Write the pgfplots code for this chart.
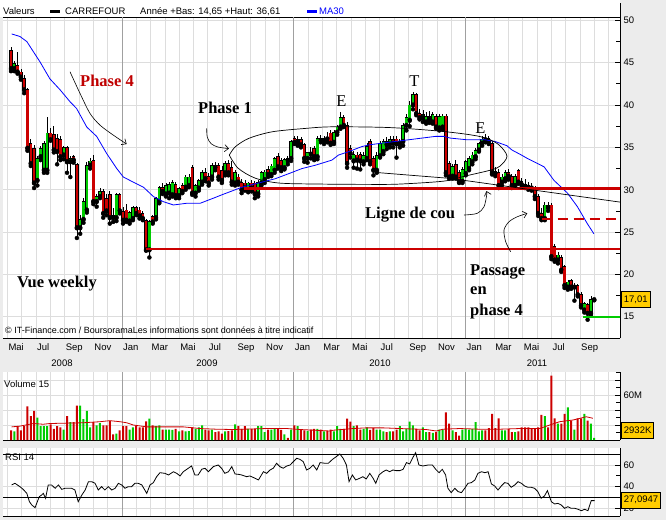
\documentclass[border=0pt]{standalone}
\usepackage{fontspec}
\setmainfont{Liberation Serif}
\newfontfamily\uisf{Liberation Sans}
\usepackage{pgfplots}
\usepackage{pgfplotstable}
\pgfplotsset{compat=1.18}
\usetikzlibrary{arrows.meta}

\definecolor{cred}{HTML}{CC0000}
\definecolor{cgreen}{HTML}{00CC00}
\definecolor{gridgray}{HTML}{DDDDDD}
\definecolor{yeargray}{HTML}{A0A0A0}
\definecolor{bggray}{HTML}{ECECEC}
\definecolor{annred}{HTML}{C00000}
\definecolor{boxyellow}{HTML}{FFCC00}

\newcommand\uifont{\uisf\fontsize{9.5}{11}\selectfont}
\newcommand\wmfont{\uisf\fontsize{9}{10}\selectfont}
\newcommand\annotb{\fontsize{16.5}{19}\selectfont\bfseries}
\newcommand\annotr{\fontsize{16.5}{19}\selectfont}

% weekly candles: x = week index, open high low close, volume (M)
\pgfplotstableread{
x o h l c v
0 46.4 46.8 44.0 44.3 13
1 44.3 45.2 44.0 44.9 11.6
2 44.7 46.3 43.7 43.9 18.5
3 43.9 44.3 43.0 43.3 13
4 43.1 43.5 41.4 41.8 18.5
5 41.8 42.0 34.6 34.9 45
6 35.5 36.0 32.8 33.1 32
7 34.9 35.3 30.2 30.8 39
8 31.1 34.0 30.5 33.7 30
9 33.9 35.2 33.5 34.9 18.5
10 32.3 35.8 32.0 35.5 18.5
11 32.3 38.6 32.0 36.7 18.5
12 36.7 37.3 35.8 35.9 20.8
13 36.5 37.5 34.4 34.7 15
14 36.1 36.6 33.0 34.5 18.5
15 35.9 36.4 33.5 33.9 17
16 34.1 35.2 33.6 35.0 14
17 35.0 35.2 32.0 33.3 32
18 33.3 34.0 31.5 33.7 24
19 33.9 34.1 33.2 33.5 24
20 33.0 33.2 24.3 25.5 46
21 25.5 27.0 24.8 26.5 46
22 26.5 29.0 26.1 28.6 28
23 27.6 33.3 27.3 32.9 39
24 32.9 33.8 32.5 33.4 17
25 33.5 34.1 28.3 28.6 24
26 28.6 29.5 28.0 29.2 19.5
27 29.2 30.2 29.0 29.8 22.6
28 29.8 30.1 26.7 27.2 19.5
29 29.0 29.5 27.0 27.5 19.5
30 29.4 29.8 26.0 26.7 25.6
31 27.0 27.8 26.2 26.7 7.5
32 26.7 29.6 26.3 29.4 8.4
33 29.4 29.6 27.2 27.5 13
34 27.4 28.0 26.0 26.4 18.5
35 27.6 28.3 26.2 26.4 18.5
36 26.3 27.5 26.0 27.3 14
37 26.6 28.1 26.4 27.9 17
38 27.9 28.1 27.0 27.2 18.5
39 27.6 28.0 26.6 26.9 17
40 27.2 27.5 26.4 26.6 17
41 26.4 26.6 22.8 22.9 25
42 22.9 26.4 22.0 26.2 28.6
43 26.8 27.0 26.0 26.2 19.5
44 26.7 29.2 26.5 29.0 18.5
45 28.6 30.5 28.4 30.3 19.5
46 30.3 30.8 29.5 29.8 14
47 29.5 30.8 29.2 30.5 14
48 29.6 30.9 29.0 30.6 14
49 29.4 31.2 29.2 30.9 13.5
50 30.6 30.9 29.0 29.3 15
51 29.3 30.3 29.0 30.1 11.6
52 30.5 30.8 29.6 29.8 13
53 30.3 31.7 30.0 31.5 11.6
54 30.5 31.8 30.3 31.5 12
55 32.6 32.9 29.4 29.6 17
56 29.6 30.7 29.2 30.5 15
57 30.2 31.3 29.9 31.1 17
58 30.9 32.3 30.6 32.0 19.6
59 32.0 32.6 31.0 31.3 14
60 31.6 32.0 30.5 30.8 13
61 31.5 33.2 31.2 32.9 14
62 32.9 33.3 32.3 32.6 10.5
63 32.9 33.2 31.2 31.5 11.6
64 32.3 32.8 30.8 31.1 8.6
65 32.0 33.4 31.7 33.1 11.6
66 33.1 33.5 31.7 32.0 12
67 32.6 33.4 30.6 30.9 13
68 30.8 32.3 30.5 32.0 21
69 31.5 31.8 30.6 30.9 18.5
70 30.9 31.3 29.6 30.0 15
71 30.8 31.1 29.9 30.2 18.5
72 30.0 30.9 29.7 30.8 15
73 30.8 31.2 29.8 30.2 15
74 30.8 31.0 29.0 29.5 15
75 29.5 31.1 29.2 30.9 18.5
76 30.8 32.2 30.5 32.0 18.5
77 31.2 32.3 30.8 32.1 10.5
78 32.4 32.8 31.5 31.8 14
79 31.8 33.0 31.6 32.8 14
80 32.3 33.9 32.0 33.7 15
81 33.9 34.3 32.5 32.7 15
82 33.5 33.8 32.2 32.6 13.5
83 32.6 33.8 32.4 33.6 7.5
84 33.7 34.0 33.0 33.4 3
85 33.7 35.9 33.4 35.7 14
86 36.1 36.4 35.4 35.6 19.6
87 35.6 36.3 35.2 35.9 18.5
88 35.9 36.2 35.0 35.3 14
89 35.3 35.5 33.3 33.7 13
90 33.7 34.5 33.2 34.4 12
91 34.4 35.0 33.7 34.2 14
92 34.9 35.2 33.5 33.9 15
93 33.9 36.3 33.6 36.1 15
94 36.1 36.5 35.6 35.8 14
95 35.8 36.3 35.4 36.1 11.6
96 36.1 36.8 35.6 36.0 12
97 36.7 37.0 35.3 35.5 14
98 35.6 37.0 35.4 36.8 11.6
99 36.8 37.6 36.5 37.4 18.5
100 37.4 39.2 37.2 38.5 15
101 38.5 38.8 37.4 37.6 15
102 37.6 38.0 32.6 33.1 28.6
103 34.9 35.3 33.8 34.3 24.6
104 33.4 34.6 32.6 34.2 18.5
105 34.1 34.5 32.5 33.5 19.5
106 34.2 34.4 32.4 33.4 14
107 33.3 34.5 33.0 34.0 15
108 33.7 35.5 33.5 35.1 17
109 35.7 36.0 33.0 33.3 13.5
110 33.7 34.0 31.7 32.3 16
111 32.3 34.5 32.0 34.0 14
112 34.0 35.8 33.8 35.5 14
113 34.5 36.0 34.2 35.7 11.6
114 35.7 36.2 34.8 35.3 10.5
115 35.4 36.3 35.0 35.9 11.6
116 35.9 36.4 35.0 35.5 11.6
117 36.0 36.3 33.8 35.4 14
118 35.4 36.0 35.0 35.7 18.5
119 35.7 37.9 35.2 37.6 11.6
120 37.6 39.0 37.0 38.5 15
121 38.2 40.5 37.5 40.0 24.6
122 40.0 41.6 39.5 41.2 19.5
123 41.2 41.4 38.8 39.0 15
124 39.0 39.5 38.3 38.5 13
125 38.5 39.4 38.0 38.9 17
126 38.0 39.2 37.8 38.6 10.5
127 38.6 39.3 37.9 38.3 10.5
128 38.0 39.2 37.8 38.9 9.5
129 38.6 38.9 37.2 37.4 10.5
130 37.3 38.9 37.0 38.6 14
131 37.4 38.9 37.1 38.7 14
132 38.7 38.9 31.7 32.0 36.7
133 33.1 33.4 31.3 31.5 22
134 31.6 33.0 31.3 32.7 13
135 33.0 33.5 31.3 31.5 10.5
136 32.0 32.3 30.8 30.9 6
137 31.0 32.7 30.8 32.4 14
138 31.9 33.5 31.7 33.3 15
139 32.5 34.0 32.3 33.7 14
140 33.3 34.4 33.0 34.1 15
141 33.9 34.9 33.6 34.6 23.7
142 34.7 35.6 34.5 35.5 11.6
143 35.5 36.3 35.2 36.0 13
144 36.1 36.6 35.6 35.9 13
145 36.1 36.4 35.4 35.7 16
146 35.5 35.8 31.8 32.0 35
147 32.2 32.7 31.6 31.9 16
148 32.0 32.4 30.2 30.5 29
149 30.9 31.8 30.5 31.5 13
150 31.3 32.3 31.0 32.0 13
151 32.0 32.4 31.2 31.6 15
152 31.6 31.9 30.2 30.5 10.5
153 30.5 31.9 30.3 31.6 10.5
154 32.3 32.5 30.7 30.9 11.6
155 31.0 31.4 30.3 30.6 17
156 30.6 31.3 30.2 30.4 17
157 30.5 30.9 30.0 30.3 17
158 30.4 30.8 29.9 30.2 15
159 30.2 30.5 28.9 29.2 15
160 29.2 29.5 26.9 27.2 17
161 27.2 27.8 26.4 26.6 33.6
162 26.6 28.5 26.4 28.2 32
163 28.2 28.6 27.5 27.9 17
164 28.2 28.4 21.8 22.1 86
165 23.3 23.6 21.5 21.7 29
166 21.7 22.6 21.3 22.3 22
167 22.0 22.3 20.3 20.5 22
168 20.9 21.1 18.4 18.7 35
169 18.5 19.3 18.2 19.1 43.5
170 19.3 19.5 18.3 18.5 26
171 18.5 19.0 16.9 18.6 14
172 18.7 18.9 17.4 17.6 29
173 17.6 17.9 16.1 16.3 29
174 15.8 16.8 15.5 16.6 35
175 16.4 16.6 14.65 15.4 26
176 15.4 17.4 15.2 17.01 22
177 17.01 17.1 16.95 17.01 2.93
}\candles

% MA30 (blue)
\pgfplotstableread{
x y
0.2 48.4
2.7 48.1
4.8 47.5
6.8 46.3
8.8 45.1
11.8 43.1
14.9 41.8
17.9 40.4
19.9 39.6
23.0 37.4
26.0 36.3
29.0 34.3
32.1 32.5
34.1 31.5
37.1 30.9
40.2 30.3
43.2 29.2
46.2 28.6
49.3 28.2
53.3 28.4
57.4 28.4
61.4 29.0
64.0 29.4
70.1 30.3
76.2 30.9
80.2 31.3
84.3 31.9
88.3 32.5
92.4 32.9
97.4 33.5
99.4 34.1
102.5 34.5
106.5 35.1
108.6 35.3
112.6 35.5
116.6 35.7
120.7 35.9
124.7 36.1
128.8 36.3
131.4 36.3
133.3 36.1
138.4 35.9
143.9 35.9
146.9 35.7
150.5 35.2
152.0 34.7
154.9 34.1
156.7 33.7
161.8 32.7
164.8 31.1
168.9 29.6
171.9 28.0
174.9 26.0
176.9 24.8
}\maline

% volume moving average (15)
\pgfplotstableread{
x y
0.2 17.5
2.7 18.5
6.8 22
9.8 21
11.8 22
21.9 23
27.0 24.4
30.0 25.8
33.1 24.4
35.1 23
37.1 20
41.2 17.5
47.3 17.5
52.3 17.5
57.4 15.3
62.4 14.4
67.5 14
77.6 15.3
83.7 15.3
87.7 14
96.8 12
97.7 13
103.8 15.3
107.8 16.2
112.9 16.2
118.0 15.3
126.0 14
129.1 12
131.1 14.4
136.2 15.3
142.2 14.4
148.3 14.4
154.4 15.3
160.5 15.3
163.5 20
166.5 24.4
170.6 26.7
174.6 31
176.6 29
}\volma

% RSI 14
\pgfplotstableread{
x y
0.2 41.6
1.2 43.1
2.7 40.0
3.7 37.5
4.8 33.8
5.6 26.1
6.3 23.1
7.3 20.6
7.8 24.6
8.6 30.8
9.3 32.3
9.8 33.8
10.5 29.3
11.3 41.6
12.3 41.6
13.4 38.5
14.4 41.6
15.4 37.5
16.4 38.5
18.4 38.5
19.4 36.9
20.4 26.1
21.5 32.3
22.5 36.9
23.5 44.6
24.5 44.6
25.5 43.1
26.5 36.9
27.5 40.0
28.5 36.9
29.5 40.0
30.6 36.9
31.6 38.5
32.6 43.1
33.6 41.6
34.6 38.5
35.6 40.0
36.6 40.0
37.6 43.1
38.6 43.1
39.7 41.6
41.2 33.8
42.2 41.6
43.2 43.7
44.2 49.2
45.2 52.9
46.7 52.3
47.8 50.8
49.3 53.8
50.3 52.3
51.3 49.9
52.3 53.8
53.8 57.0
54.8 59.1
55.8 50.8
56.8 50.8
57.9 56.1
58.9 57.0
59.9 53.8
61.4 58.5
62.9 60.0
63.9 57.0
64.9 52.3
66.0 53.8
67.0 58.5
68.0 51.7
69.0 51.4
70.0 50.8
71.5 49.2
72.5 49.9
74.1 47.7
75.1 46.2
76.6 53.8
77.6 52.3
78.6 55.4
79.6 57.0
80.6 61.6
81.6 58.5
82.6 57.0
83.7 59.1
84.7 60.0
85.7 63.1
86.7 66.2
87.7 65.2
88.7 63.1
89.7 55.4
90.7 57.0
91.7 60.0
92.8 55.4
93.8 62.2
95.3 61.6
96.3 61.6
97.5 65.0
98.7 67.7
99.8 70.2
100.8 66.2
101.8 60.0
102.6 44.6
103.6 50.8
104.6 46.2
105.8 47.7
106.8 49.2
107.8 47.1
108.9 52.3
109.9 47.7
110.7 43.1
111.7 50.8
112.9 53.8
113.9 55.4
114.9 53.8
115.9 55.4
116.9 54.8
118.0 54.8
119.0 56.0
120.0 62.2
121.0 61.0
122.0 67.1
122.8 71.4
123.8 60.0
125.0 59.1
126.6 60.0
127.9 60.0
128.9 56.0
129.9 52.9
130.9 56.0
131.9 50.8
132.6 38.5
133.6 34.5
134.7 38.5
135.7 35.4
136.7 34.5
137.7 38.5
138.7 43.1
139.7 43.7
140.8 46.2
141.7 52.3
142.8 53.8
143.8 52.9
144.8 53.8
145.8 42.5
146.8 40.6
147.8 36.9
148.8 40.6
149.8 43.7
150.8 43.1
151.8 39.4
152.9 41.6
153.9 44.6
154.9 43.1
155.9 40.6
156.9 39.4
157.9 39.4
158.9 38.5
159.9 35.4
160.9 29.3
161.9 31.4
162.8 36.3
164.0 26.1
165.0 24.0
166.0 24.6
167.0 23.1
168.0 20.0
169.0 21.5
170.0 20.0
171.1 20.0
172.1 19.1
173.1 17.8
174.1 19.1
175.1 17.8
176.1 27.1
177.1 27.1
}\rsi

\pgfplotsset{
  panel/.style={
    scale only axis, width=617pt,
    xmin=-2.428, xmax=184.83,
    axis background/.style={fill=white},
    clip mode=individual,
    axis y line*=right,
    ytick pos=right, yticklabel pos=right,
    xtick pos=left, xticklabel pos=left,
    axis line style={-, black, line width=0.8pt},
    x axis line style={-}, y axis line style={-},
    xtick={-1.07,3.275,...,181.5},
    xmajorgrids, ymajorgrids,
    major grid style={draw=gridgray, line width=0.9pt},
    extra x ticks={33.69,85.83,137.97},
    extra x tick labels={},
    extra x tick style={grid=major, major grid style={draw=yeargray, line width=0.9pt}},
    xtick style={draw=none},
    tick align=inside,
    ytick style={black, line width=0.8pt},
    major tick length=5pt, minor tick length=4pt,
    tick label style={font=\uifont, text=black},
  },
  wick/.style={only marks, mark=none, error bars/.cd, y dir=plus, y explicit, error mark=none,
    error bar style={line width=0.7pt, black}},
}
\tikzset{
  vbox/.style={anchor=west, xshift=1pt, fill=boxyellow, draw=black, line width=0.8pt,
    inner xsep=2.5pt, inner ysep=0pt, minimum height=16pt, font=\uifont},
}

\begin{document}
\begin{tikzpicture}
\useasboundingbox (0,0) rectangle (666pt,520pt);
\fill[bggray] (0,0) rectangle (666pt,520pt);
\fill[white] (0,503pt) rectangle (620pt,520pt);

% ---------------- main price panel ----------------
\begin{axis}[panel,
  at={(3pt,182pt)}, anchor=south west, height=321pt,
  ymin=12.49, ymax=50.4,
  axis x line*=box,
  ytick={15,20,...,50}, yticklabels={15,20,25,30,35,40,45,50},
  minor ytick={12.5,17.5,...,47.5},
  xticklabels={Mai,,Jul,,Sep,,Nov,,Jan,,Mar,,Mai,,Jul,,Sep,,Nov,,Jan,,Mar,,Mai,,Jul,,Sep,,Nov,,Jan,,Mar,,Mai,,Jul,,Sep,,},
  xticklabel style={anchor=north west, xshift=-2.5pt, yshift=-2pt},
]
% wicks
\addplot[wick] table[x=x, y=l, y error plus expr={\thisrow{h}-\thisrow{l}}] {\candles};
% black body outlines
\addplot[only marks, mark=none, error bars/.cd, y dir=plus, y explicit, error mark=none,
  error bar style={line width=3.4pt, black}]
  table[x=x, y expr={min(\thisrow{o},\thisrow{c})-0.05}, y error plus expr={abs(\thisrow{c}-\thisrow{o})+0.1}] {\candles};
% green bodies
\addplot[only marks, mark=none, restrict expr to domain={\thisrow{c}-\thisrow{o}}{0:100},
  error bars/.cd, y dir=plus, y explicit, error mark=none,
  error bar style={line width=2.4pt, cgreen}]
  table[x=x, y expr={min(\thisrow{o},\thisrow{c})+0.05}, y error plus expr={max(abs(\thisrow{c}-\thisrow{o})-0.1,0)}] {\candles};
% red bodies
\addplot[only marks, mark=none, restrict expr to domain={\thisrow{c}-\thisrow{o}}{-100:-0.001},
  error bars/.cd, y dir=plus, y explicit, error mark=none,
  error bar style={line width=2.4pt, cred}]
  table[x=x, y expr={min(\thisrow{o},\thisrow{c})+0.05}, y error plus expr={max(abs(\thisrow{c}-\thisrow{o})-0.1,0)}] {\candles};
% MA30
\addplot[blue, line width=0.8pt] table[x=x, y=y] {\maline};
% horizontal levels
\addplot[cred, line width=2.5pt] coordinates {(70.62,30.17) (184.83,30.17)};
\addplot[cred, line width=2.5pt] coordinates {(40.88,23.0) (184.83,23.0)};
\addplot[cred, line width=2.5pt, dash pattern=on 10pt off 6pt] coordinates {(161.06,26.53) (184.83,26.53)};
\addplot[cgreen, line width=2pt] coordinates {(173.6,15.0) (184.83,15.0)};
% hand-drawn ellipse and neckline
\addplot[black, line width=0.7pt, smooth, tension=0.5] coordinates {
 (66.25,34.09) (68.07,35.07) (72.14,36.06) (79.21,36.84) (89.32,37.24) (97.42,37.43)
 (115.02,37.34) (131.41,36.87) (142.34,36.28) (147.80,35.39) (150.53,33.97) (148.41,32.79)
 (145.58,32.32) (137.78,31.61) (131.41,31.02) (118.06,30.67) (109.56,30.63) (93.78,30.67)
 (81.34,30.79) (74.05,31.38) (68.89,32.56) (66.25,34.09)};
\addplot[black, line width=0.7pt] coordinates {(110.47,32.05) (133.23,31.34) (184.83,28.54)};
% arrows
\addplot[black, line width=0.6pt, smooth, -{Straight Barb[length=4pt,width=7pt]}] coordinates {
 (17.91,43.93) (20.94,41.38) (23.98,39.01) (27.01,37.63) (31.05,36.45) (35.11,35.39)};
\addplot[black, line width=0.6pt, smooth, -{Straight Barb[length=4pt,width=7pt]}] coordinates {
 (59.39,37.24) (59.57,36.22) (60.70,35.45) (62.82,35.04) (66.16,34.86)};
\addplot[black, line width=0.6pt, smooth, -{Straight Barb[length=4pt,width=7pt]}] coordinates {
 (137.48,27.01) (141.52,27.21) (143.55,27.99) (144.37,29.37) (144.31,29.84)};
\addplot[black, line width=0.6pt, smooth, -{Straight Barb[length=4pt,width=7pt]}] coordinates {
 (151.65,22.67) (150.14,23.85) (149.62,25.24) (151.14,26.22) (153.66,26.81) (156.69,27.21)};
% annotations
\node[anchor=base west, inner sep=0, font=\annotb, text=annred] at (axis cs:20.94,42.15) {Phase 4};
\node[anchor=base west, inner sep=0, font=\annotb] at (axis cs:56.75,39.01) {Phase 1};
\node[anchor=base, inner sep=0, font=\annotr] at (axis cs:100.30,39.88) {E};
\node[anchor=base, inner sep=0, font=\annotr] at (axis cs:122.46,42.24) {T};
\node[anchor=base, inner sep=0, font=\annotr] at (axis cs:142.49,36.69) {E};
\node[anchor=base west, inner sep=0, font=\annotb] at (axis cs:107.44,26.65) {Ligne de cou};
\node[anchor=base west, inner sep=0, font=\annotb] at (axis cs:1.82,18.47) {Vue weekly};
\node[anchor=base west, inner sep=0, font=\annotb] at (axis cs:139.30,19.9) {Passage};
\node[anchor=base west, inner sep=0, font=\annotb] at (axis cs:139.30,17.6) {en};
\node[anchor=base west, inner sep=0, font=\annotb] at (axis cs:139.30,15.2) {phase 4};
\node[anchor=base west, inner sep=0, font=\wmfont] at (axis cs:-1.82,13.08) {© IT-Finance.com / BoursoramaLes informations sont données à titre indicatif};
% year labels
\node[font=\uifont] at (axis cs:15.48,9.53) {2008};
\node[font=\uifont] at (axis cs:59.48,9.53) {2009};
\node[font=\uifont] at (axis cs:111.99,9.53) {2010};
\node[font=\uifont] at (axis cs:159.64,9.53) {2011};
% last value box
\node[vbox] at (axis cs:184.83,17.01) {17,01};
\end{axis}

% ---------------- volume panel ----------------
\begin{axis}[panel,
  at={(3pt,80pt)}, anchor=south west, height=68pt,
  ymin=0, ymax=90.7,
  axis x line*=bottom,
  xticklabels={},
  ytick={20,40,60,80}, yticklabels={,,60M,},
  minor ytick={10,30,50,70,90},
]
\addplot[ybar, bar width=2pt, bar shift=0pt, fill=cred, draw=none,
  restrict expr to domain={\thisrow{c}-\thisrow{o}}{-100:-0.001}] table[x=x, y=v] {\candles};
\addplot[ybar, bar width=2pt, bar shift=0pt, fill=cgreen, draw=none,
  restrict expr to domain={\thisrow{c}-\thisrow{o}}{0:100}] table[x=x, y=v] {\candles};
\addplot[cred, line width=0.8pt] table[x=x, y=y] {\volma};
\node[anchor=base west, inner sep=0, font=\uifont] at (axis cs:-2.12,70.7) {Volume 15};
\node[vbox] at (axis cs:184.83,13.3) {2932K};
\end{axis}

% ---------------- RSI panel ----------------
\begin{axis}[panel,
  at={(3pt,4pt)}, anchor=south west, height=68pt,
  ymin=12.9, ymax=75.7,
  axis x line*=bottom,
  xticklabels={},
  ytick={20,40,60}, yticklabels={20,40,60},
  minor ytick={30,50,70},
]
\addplot[black, line width=1pt] coordinates {(-2.428,30) (184.83,30)};
\addplot[black, line width=1pt] coordinates {(-2.428,70) (184.83,70)};
\addplot[black, line width=0.8pt] table[x=x, y=y] {\rsi};
\node[anchor=base west, inner sep=0, font=\uifont] at (axis cs:-1.82,64.0) {RSI 14};
\node[vbox] at (axis cs:184.83,27.7) {27,0947};
\end{axis}

% ---------------- header ----------------
\draw[black, line width=0.8pt] (620pt,503pt) -- (620pt,517pt);
\node[anchor=base west, inner sep=0, font=\uifont] at (3pt,505pt) {Valeurs};
\node[anchor=base west, inner sep=0] at (50pt,506.5pt) {\rule{10pt}{3pt}};
\node[anchor=base west, inner sep=0, font=\uifont] at (65pt,505pt) {CARREFOUR};
\node[anchor=base west, inner sep=0, font=\uifont] at (140pt,505pt) {Année +Bas: 14,65 +Haut: 36,61};
\node[anchor=base west, inner sep=0, text=blue] at (307pt,506.5pt) {\rule{10pt}{3pt}};
\node[anchor=base west, inner sep=0, font=\uifont, text=blue] at (319pt,505pt) {MA30};
\end{tikzpicture}
\end{document}
